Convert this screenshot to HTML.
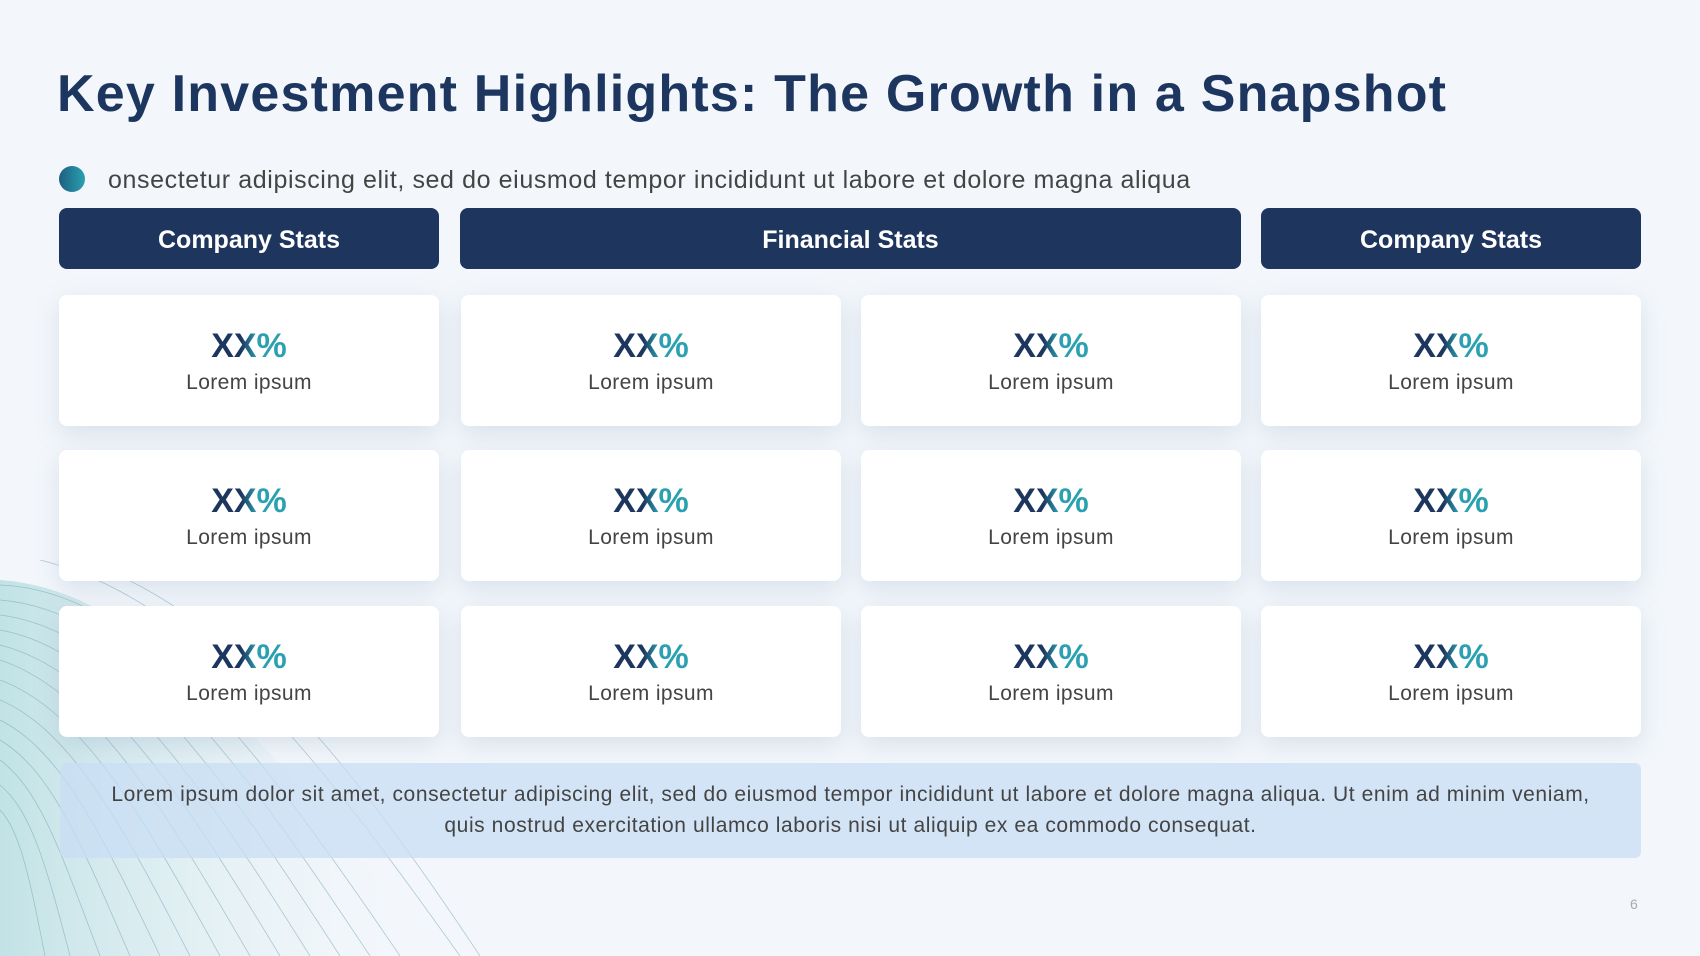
<!DOCTYPE html>
<html><head><style>
*{margin:0;padding:0;box-sizing:border-box}
body{width:1700px;height:956px;background:#f3f7fb;font-family:"Liberation Sans",sans-serif;position:relative;overflow:hidden}
.abs{position:absolute}
h1{position:absolute;left:57px;top:64px;font-size:52px;font-weight:bold;color:#1d365f;letter-spacing:1.2px;white-space:nowrap}
.hdr{position:absolute;top:208px;height:61px;background:#1e355e;border-radius:8px;color:#fff;font-weight:bold;font-size:25px;display:flex;align-items:center;justify-content:center;padding-top:4px}
.card{position:absolute;width:380px;height:131px;background:#fff;border-radius:8px;box-shadow:0 8px 24px rgba(140,160,190,0.25);text-align:center}
.card .v{position:absolute;left:0;right:0;top:32px;font-size:34px;font-weight:bold;background:linear-gradient(90deg,#1d365f 40%,#2aa0b0 60%);-webkit-background-clip:text;color:transparent;width:80px;margin:0 auto}
.card .l{position:absolute;left:0;right:0;top:76px;font-size:21px;letter-spacing:0.4px;color:#444}
</style></head><body>
<svg class="abs" style="left:0;top:560px" width="520" height="396" viewBox="0 0 520 396">
<defs><linearGradient id="g" x1="0" x2="1"><stop offset="0" stop-color="#b5dde0" stop-opacity="0.8"/><stop offset="0.9" stop-color="#dfeef2" stop-opacity="0"/></linearGradient></defs>
<path d="M0 20 C150 30 280 200 440 396 L0 396Z" fill="url(#g)"/>
<g fill="none" stroke="#7fa9b8" stroke-width="0.8" opacity="0.6">
<path d="M0 25 C140 30 260 190 400 396"/><path d="M0 40 C130 50 240 200 370 396"/><path d="M0 55 C120 70 220 210 340 396"/><path d="M0 70 C110 90 200 220 310 396"/><path d="M0 85 C100 110 180 230 280 396"/><path d="M0 100 C90 130 160 240 250 396"/><path d="M0 120 C80 150 140 250 220 396"/><path d="M0 140 C70 170 120 260 190 396"/><path d="M0 160 C60 190 100 270 160 396"/><path d="M0 180 C50 210 80 280 130 396"/><path d="M0 200 C40 230 60 290 100 396"/><path d="M0 225 C30 250 45 300 70 396"/><path d="M0 250 C20 270 30 320 45 396"/><path d="M40 0 C200 40 320 200 460 396"/><path d="M80 0 C230 50 350 200 480 396"/>
</g></svg>
<h1>Key Investment Highlights: The Growth in a Snapshot</h1>
<div class="abs" style="left:59px;top:166px;width:26px;height:26px;border-radius:50%;background:linear-gradient(90deg,#1e5f80,#2aa0b0)"></div>
<div class="abs" style="left:108px;top:166px;font-size:25px;letter-spacing:0.6px;color:#444;white-space:nowrap">onsectetur adipiscing elit, sed do eiusmod tempor incididunt ut labore et dolore magna aliqua</div>
<div class="hdr" style="left:59px;width:380px">Company Stats</div>
<div class="hdr" style="left:460px;width:781px">Financial Stats</div>
<div class="hdr" style="left:1261px;width:380px">Company Stats</div>

<div class="card" style="left:59px;top:295px"><div class="v">XX%</div><div class="l">Lorem ipsum</div></div>
<div class="card" style="left:461px;top:295px"><div class="v">XX%</div><div class="l">Lorem ipsum</div></div>
<div class="card" style="left:861px;top:295px"><div class="v">XX%</div><div class="l">Lorem ipsum</div></div>
<div class="card" style="left:1261px;top:295px"><div class="v">XX%</div><div class="l">Lorem ipsum</div></div>
<div class="card" style="left:59px;top:450px"><div class="v">XX%</div><div class="l">Lorem ipsum</div></div>
<div class="card" style="left:461px;top:450px"><div class="v">XX%</div><div class="l">Lorem ipsum</div></div>
<div class="card" style="left:861px;top:450px"><div class="v">XX%</div><div class="l">Lorem ipsum</div></div>
<div class="card" style="left:1261px;top:450px"><div class="v">XX%</div><div class="l">Lorem ipsum</div></div>
<div class="card" style="left:59px;top:606px"><div class="v">XX%</div><div class="l">Lorem ipsum</div></div>
<div class="card" style="left:461px;top:606px"><div class="v">XX%</div><div class="l">Lorem ipsum</div></div>
<div class="card" style="left:861px;top:606px"><div class="v">XX%</div><div class="l">Lorem ipsum</div></div>
<div class="card" style="left:1261px;top:606px"><div class="v">XX%</div><div class="l">Lorem ipsum</div></div>

<div class="abs" style="left:60px;top:763px;width:1581px;height:95px;background:rgba(200,222,244,0.75);border-radius:6px;text-align:center;font-size:21px;letter-spacing:0.58px;line-height:31px;color:#444;padding-top:16px;white-space:nowrap">Lorem ipsum dolor sit amet, consectetur adipiscing elit, sed do eiusmod tempor incididunt ut labore et dolore magna aliqua. Ut enim ad minim veniam,<br>quis nostrud exercitation ullamco laboris nisi ut aliquip ex ea commodo consequat.</div>
<div class="abs" style="left:1630px;top:896px;font-size:14px;color:#aaa">6</div>
</body></html>
